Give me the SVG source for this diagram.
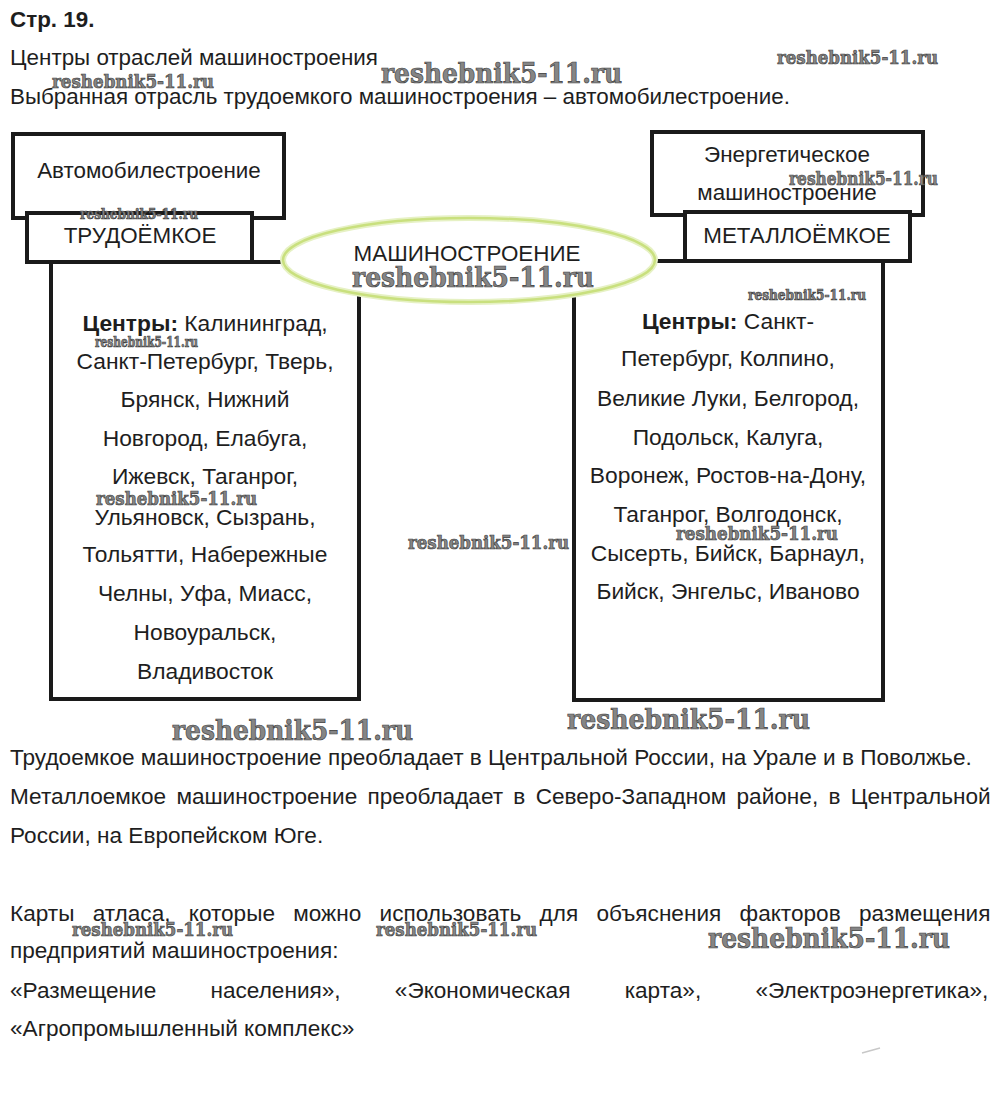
<svg xmlns="http://www.w3.org/2000/svg" width="1000" height="1101" viewBox="0 0 1000 1101">
<defs>
<style>
.t{font-family:"Liberation Sans",Arial,sans-serif;font-size:22.4px;fill:#1e1e1e}
.l{font-size:22.8px}
.p{font-size:22.6px}
.b{font-weight:bold}
.c{text-anchor:middle}
.box{fill:#fff;stroke:#1a1a1a;stroke-width:4}
.ln{fill:none;stroke:#1a1a1a;stroke-width:4}
.wm{font-family:"DejaVu Serif","Liberation Serif",serif;font-weight:bold;fill:#858585;stroke:#3f3f3f;stroke-width:0.7}
.wl{font-size:28px}
.ws{font-size:19px}
.wt{font-size:14px}
</style>
</defs>
<rect width="1000" height="1101" fill="#fff"/>

<text class="t b" x="10" y="27" font-size="21">Стр. 19.</text>
<text class="t" x="10" y="65">Центры отраслей машиностроения</text>
<text class="t" x="10" y="104">Выбранная отрасль трудоемкого машиностроения – автомобилестроение.</text>

<g id="left-list">
<rect class="box" x="51" y="262" width="308" height="437"/>
<text class="t l c" x="205" y="331"><tspan class="b">Центры:</tspan> Калининград,</text>
<text class="t l c" x="205" y="369">Санкт-Петербург, Тверь,</text>
<text class="t l c" x="205" y="407">Брянск, Нижний</text>
<text class="t l c" x="205" y="446">Новгород, Елабуга,</text>
<text class="t l c" x="205" y="484">Ижевск, Таганрог,</text>
<text class="t l c" x="205" y="525">Ульяновск, Сызрань,</text>
<text class="t l c" x="205" y="562">Тольятти, Набережные</text>
<text class="t l c" x="205" y="601">Челны, Уфа, Миасс,</text>
<text class="t l c" x="205" y="640">Новоуральск,</text>
<text class="t l c" x="205" y="679">Владивосток</text>
</g>

<g id="right-list">
<rect class="box" x="574" y="261" width="309" height="439"/>
<text class="t l c" x="728" y="329"><tspan class="b">Центры:</tspan> Санкт-</text>
<text class="t l c" x="728" y="366">Петербург, Колпино,</text>
<text class="t l c" x="728" y="406">Великие Луки, Белгород,</text>
<text class="t l c" x="728" y="445">Подольск, Калуга,</text>
<text class="t l c" x="728" y="483">Воронеж, Ростов-на-Дону,</text>
<text class="t l c" x="728" y="522">Таганрог, Волгодонск,</text>
<text class="t l c" x="728" y="561">Сысерть, Бийск, Барнаул,</text>
<text class="t l c" x="728" y="599">Бийск, Энгельс, Иваново</text>
</g>

<g id="connectors">
<line class="ln" x1="27" y1="262" x2="285" y2="262"/>
<line class="ln" x1="653" y1="261" x2="910" y2="261"/>
</g>

<g id="auto">
<rect class="box" x="13" y="134" width="271" height="84"/>
<text class="t c" x="149" y="178">Автомобилестроение</text>
</g>
<g id="trud">
<rect class="box" x="27" y="213" width="225" height="49"/>
<text class="t c" x="140" y="243">ТРУДОЁМКОЕ</text>
</g>

<g id="energ">
<rect class="box" x="652" y="132" width="271" height="83"/>
<text class="t c" x="787" y="162">Энергетическое</text>
<text class="t c" x="787" y="200">машиностроение</text>
</g>
<g id="metal">
<rect class="box" x="685" y="212" width="225" height="49"/>
<text class="t c" x="797" y="243">МЕТАЛЛОЁМКОЕ</text>
</g>

<g id="mash">
<ellipse cx="469" cy="260" rx="186" ry="42" fill="#fff" stroke="#e6f1c4" stroke-width="6"/>
<ellipse cx="469" cy="260" rx="186" ry="42" fill="none" stroke="#c9e07e" stroke-width="2.5"/>
<text class="t c" x="467" y="261">МАШИНОСТРОЕНИЕ</text>
</g>

<text class="t p" x="10" y="765">Трудоемкое машиностроение преобладает в Центральной России, на Урале и в Поволжье.</text>
<text class="t p" x="10" y="804" style="word-spacing:4px">Металлоемкое машиностроение преобладает в Северо-Западном районе, в Центральной</text>
<text class="t p" x="10" y="843">России, на Европейском Юге.</text>
<text class="t p" x="10" y="921" style="word-spacing:12px">Карты атласа, которые можно использовать для объяснения факторов размещения</text>
<text class="t p" x="10" y="958">предприятий машиностроения:</text>
<text class="t p" x="10" y="998" style="word-spacing:48px">«Размещение населения», «Экономическая карта», «Электроэнергетика»,</text>
<text class="t p" x="10" y="1036">«Агропромышленный комплекс»</text>

<line x1="862" y1="1053" x2="880" y2="1048" stroke="#c8c8c8" stroke-width="1.5"/>

<g id="watermarks">
<text class="wm wl" x="381" y="83" textLength="241" lengthAdjust="spacingAndGlyphs">reshebnik5-11.ru</text>
<text class="wm ws" x="777" y="64" textLength="161" lengthAdjust="spacingAndGlyphs">reshebnik5-11.ru</text>
<text class="wm ws" x="52" y="88" textLength="162" lengthAdjust="spacingAndGlyphs">reshebnik5-11.ru</text>
<text class="wm wt" x="80" y="219" textLength="118" lengthAdjust="spacingAndGlyphs">reshebnik5-11.ru</text>
<text class="wm ws" x="789" y="185" textLength="149" lengthAdjust="spacingAndGlyphs">reshebnik5-11.ru</text>
<text class="wm wl" x="352" y="287" textLength="242" lengthAdjust="spacingAndGlyphs">reshebnik5-11.ru</text>
<text class="wm wt" x="748" y="300" textLength="118" lengthAdjust="spacingAndGlyphs">reshebnik5-11.ru</text>
<text class="wm wt" x="95" y="347" textLength="103" lengthAdjust="spacingAndGlyphs">reshebnik5-11.ru</text>
<text class="wm ws" x="96" y="505" textLength="161" lengthAdjust="spacingAndGlyphs">reshebnik5-11.ru</text>
<text class="wm ws" x="408" y="549" textLength="161" lengthAdjust="spacingAndGlyphs">reshebnik5-11.ru</text>
<text class="wm ws" x="676" y="540" textLength="162" lengthAdjust="spacingAndGlyphs">reshebnik5-11.ru</text>
<text class="wm wl" x="172" y="740" textLength="241" lengthAdjust="spacingAndGlyphs">reshebnik5-11.ru</text>
<text class="wm wl" x="567" y="729" textLength="243" lengthAdjust="spacingAndGlyphs">reshebnik5-11.ru</text>
<text class="wm ws" x="72" y="936" textLength="161" lengthAdjust="spacingAndGlyphs">reshebnik5-11.ru</text>
<text class="wm ws" x="376" y="936" textLength="161" lengthAdjust="spacingAndGlyphs">reshebnik5-11.ru</text>
<text class="wm wl" x="708" y="948" textLength="242" lengthAdjust="spacingAndGlyphs">reshebnik5-11.ru</text>
</g>
</svg>
